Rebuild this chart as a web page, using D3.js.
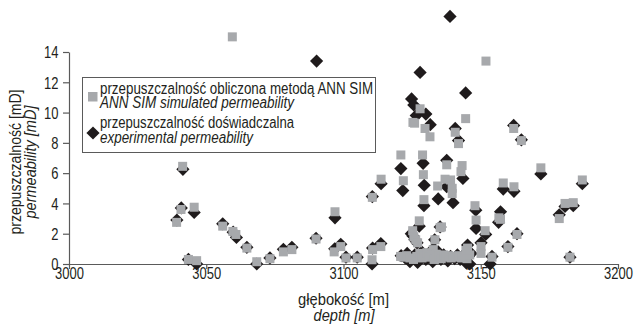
<!DOCTYPE html>
<html>
<head>
<meta charset="utf-8">
<script src="https://cdn.jsdelivr.net/npm/d3@7"></script>
<style>
  html, body { margin: 0; padding: 0; background: #fff; }
  svg { display: block; }
  text { font-family: "Liberation Sans", Arial, sans-serif; fill: #231f20; }
</style>
</head>
<body>
<svg id="chart" width="634" height="326"></svg>
<script>
// Experimental (core) permeability vs depth
const expDepth = [3039.3, 3040.9, 3041.5, 3043.5, 3045.6, 3046.5, 3056.0, 3059.8, 3061.0, 3064.8,
  3068.4, 3073.2, 3078.1, 3081.2, 3090.0, 3090.2, 3096.9, 3096.8, 3099.0, 3100.9,
  3105.0, 3110.4, 3110.6, 3110.5, 3113.6, 3113.7, 3120.9, 3121.6, 3123.2, 3124.2,
  3124.7, 3124.8, 3125.6, 3126.5, 3127.6, 3127.9, 3129.3, 3129.0, 3129.4, 3130.0,
  3131.6, 3134.5, 3135.2, 3137.6, 3137.6, 3139.9, 3140.7, 3141.9, 3143.5, 3144.5,
  3145.2, 3144.8, 3146.0, 3148.2, 3148.3, 3150.1, 3151.8, 3153.4, 3154.1, 3156.5,
  3157.2, 3158.2, 3159.9, 3162.0, 3162.1, 3163.2, 3164.8, 3171.9, 3178.6, 3180.7,
  3182.5, 3183.7, 3187.0, 3138.8,
  3121.0, 3122.5, 3126.0, 3127.0, 3128.5, 3130.0, 3131.0, 3132.5, 3133.5, 3134.5,
  3135.5, 3136.5, 3138.0, 3139.0, 3140.5, 3141.5, 3142.5, 3143.5, 3145.5, 3146.5,
  3133.2, 3132.7, 3126.0, 3125.3, 3126.8];
const expPerm = [2.9, 3.7, 6.25, 0.3, 3.4, 0.0, 2.65, 2.1, 1.75, 1.1,
  0.0, 0.4, 0.97, 1.1, 1.7, 13.4, 3.05, 1.0, 1.3, 0.45,
  0.45, 0.0, 1.05, 4.45, 1.35, 5.3, 6.3, 4.85, 0.7, 0.15,
  2.0, 10.9, 10.5, 9.8, 2.5, 12.65, 3.85, 6.65, 5.2, 9.9,
  9.2, 4.3, 2.45, 6.85, 5.1, 4.05, 8.95, 8.15, 5.65, 11.3,
  1.25, 0.05, 0.0, 3.55, 2.35, 1.4, 1.95, 0.0, 0.5, 2.75,
  3.45, 4.95, 1.15, 9.15, 4.8, 2.0, 8.2, 5.95, 3.25, 3.8,
  0.45, 3.85, 5.3, 16.35,
  0.55, 0.4, 0.6, 0.1, 0.8, 0.3, 0.65, 0.15, 0.55, 0.8,
  0.3, 0.6, 0.2, 0.5, 0.35, 0.6, 0.3, 0.55, 0.5, 0.7,
  1.6, 1.0, 1.6, 1.85, 1.4];

// Permeability simulated with the ANN SIM method
const simDepth = [3039.2, 3040.8, 3041.4, 3043.5, 3045.6, 3046.5, 3056.0, 3059.5, 3059.7, 3060.8,
  3064.8, 3068.4, 3073.2, 3078.1, 3081.2, 3090.0, 3096.9, 3096.6, 3099.0, 3100.9,
  3105.0, 3110.4, 3110.6, 3110.5, 3113.6, 3113.7, 3120.9, 3121.8, 3125.3, 3125.9,
  3127.9, 3127.6, 3128.8, 3129.1, 3129.3, 3129.7, 3131.5, 3134.3, 3135.2, 3137.0,
  3137.6, 3139.0, 3139.6, 3139.6, 3140.7, 3141.9, 3143.2, 3142.8, 3144.5, 3145.2,
  3147.9, 3148.3, 3150.1, 3150.1, 3151.6, 3151.9, 3154.1, 3156.6, 3157.2, 3158.2,
  3159.9, 3162.0, 3162.1, 3163.2, 3164.8, 3171.9, 3178.6, 3180.7, 3182.5, 3183.7,
  3187.0,
  3125.2, 3125.6, 3126.3, 3127.0, 3133.3, 3132.7, 3135.7,
  3120.8, 3121.8, 3123.0, 3124.2, 3125.5, 3126.7, 3127.8, 3128.6, 3129.5, 3130.4,
  3131.3, 3132.2, 3133.0, 3133.8, 3134.8, 3135.6, 3136.5, 3137.4, 3138.3, 3139.2,
  3140.0, 3141.0, 3142.0, 3143.0, 3144.0, 3145.0, 3146.0, 3144.6];
const simPerm = [2.75, 3.6, 6.45, 0.3, 3.75, 0.22, 2.5, 15.0, 2.15, 1.95,
  1.05, 0.15, 0.35, 0.8, 0.95, 1.65, 3.45, 0.8, 1.15, 0.4,
  0.4, 0.28, 0.95, 4.4, 1.15, 5.6, 7.2, 5.5, 9.35, 9.3,
  10.25, 2.85, 7.2, 5.9, 4.25, 8.95, 8.4, 5.15, 2.4, 5.6,
  6.55, 5.55, 5.0, 4.65, 8.7, 7.95, 6.5, 6.1, 9.6, 1.05,
  3.85, 2.9, 1.15, 0.7, 2.2, 13.4, 0.45, 3.05, 2.95, 5.35,
  1.1, 8.95, 5.1, 1.95, 8.15, 6.35, 3.0, 4.0, 0.45, 4.05,
  5.55,
  2.2, 1.8, 1.6, 1.4, 1.6, 0.95, 2.45,
  0.5, 0.45, 0.55, 0.4, 0.3, 0.5, 0.7, 0.4, 0.55, 0.75,
  0.45, 0.6, 0.3, 0.65, 0.5, 0.35, 0.6, 0.45, 0.55, 0.4,
  0.5, 0.45, 0.55, 0.4, 0.5, 0.35, 0.6, 0.9];

const xTicks = [3000, 3050, 3100, 3150, 3200];
const yTicks = [0, 2, 4, 6, 8, 10, 12, 14];

const legendLabels = [
  ["przepuszczalność obliczona metodą ANN SIM", "ANN SIM simulated permeability"],
  ["przepuszczalność doświadczalna", "experimental permeability"]
];
const xTitle = ["głębokość [m]", "depth [m]"];
const yTitle = ["przepuszczalność [mD]", "permeability [mD]"];

const svg = d3.select("#chart");
const axisColor = "#5a5a5a";
const simColor = "#a7a9ac";
const expColor = "#1f1b1c";
const fontSize = 16;
const digitWidth = 7.2;

// squeeze a label to a condensed width
function condense(sel, width) {
  sel.attr("textLength", width).attr("lengthAdjust", "spacingAndGlyphs");
  return sel;
}

const x = d3.scaleLinear().domain([3000, 3200]).range([69, 618]);
const y = d3.scaleLinear().domain([0, 14]).range([264, 52]);

// axes
const xAxis = svg.append("g").attr("transform", `translate(0,${y(0)})`)
  .call(d3.axisBottom(x).tickValues(xTicks).tickSize(5).tickSizeOuter(0).tickFormat(d3.format("d")));
const yAxis = svg.append("g").attr("transform", `translate(${x(3000)},0)`)
  .call(d3.axisLeft(y).tickValues(yTicks).tickSize(6).tickSizeOuter(0));
[xAxis, yAxis].forEach(g => {
  g.selectAll("path, line").attr("stroke", axisColor).attr("stroke-width", 1.2);
  g.selectAll("text").attr("font-size", fontSize).attr("fill", "#231f20")
    .style("font-family", '"Liberation Sans", Arial, sans-serif')
    .each(function () {
      const t = d3.select(this);
      condense(t, t.text().length * digitWidth);
    });
});
xAxis.selectAll("text").attr("y", 14.5).attr("dy", 0);
yAxis.selectAll("text").attr("x", -10.5).attr("dy", "0.36em");

// markers
const diamond = "M0,-6.6L6.6,0L0,6.6L-6.6,0Z";
const sq = 9;

const expPts = expDepth.map((d, i) => [d, expPerm[i]]);
const simPts = simDepth.map((d, i) => [d, simPerm[i]]);

svg.append("g").selectAll("path").data(expPts).join("path")
  .attr("d", diamond)
  .attr("transform", d => `translate(${x(d[0])},${y(d[1])})`)
  .attr("fill", expColor);

svg.append("g").selectAll("rect").data(simPts).join("rect")
  .attr("x", d => x(d[0]) - sq / 2)
  .attr("y", d => y(d[1]) - sq / 2)
  .attr("width", sq).attr("height", sq)
  .attr("fill", simColor);

// legend
const lg = svg.append("g");
lg.append("rect").attr("x", 82.5).attr("y", 77.5).attr("width", 293).attr("height", 75)
  .attr("fill", "#fff").attr("stroke", axisColor).attr("stroke-width", 1);
lg.append("rect").attr("x", 88).attr("y", 92).attr("width", 9.5).attr("height", 9.5).attr("fill", simColor);
lg.append("path").attr("d", diamond).attr("transform", "translate(93,133)").attr("fill", expColor);
const baselines = [[93.5, 108], [128, 142.5]];
const legendWidths = [[273, 194], [194, 153]];
legendLabels.forEach((pair, i) => {
  condense(lg.append("text").attr("x", 100).attr("y", baselines[i][0]).attr("font-size", fontSize)
    .text(pair[0]), legendWidths[i][0]);
  condense(lg.append("text").attr("x", 100).attr("y", baselines[i][1]).attr("font-size", fontSize)
    .attr("font-style", "italic").text(pair[1]), legendWidths[i][1]);
});

// axis titles
condense(svg.append("text").attr("x", 343.5 - 45.5).attr("y", 305)
  .attr("font-size", fontSize).text(xTitle[0]), 91);
condense(svg.append("text").attr("x", 344 - 30.5).attr("y", 320.5)
  .attr("font-size", fontSize).attr("font-style", "italic").text(xTitle[1]), 61);
condense(svg.append("text").attr("transform", "translate(21,162) rotate(-90)").attr("x", -72.5)
  .attr("font-size", fontSize).text(yTitle[0]), 145);
condense(svg.append("text").attr("transform", "translate(36,162) rotate(-90)").attr("x", -56.5)
  .attr("font-size", fontSize).attr("font-style", "italic").text(yTitle[1]), 113);
</script>
</body>
</html>
